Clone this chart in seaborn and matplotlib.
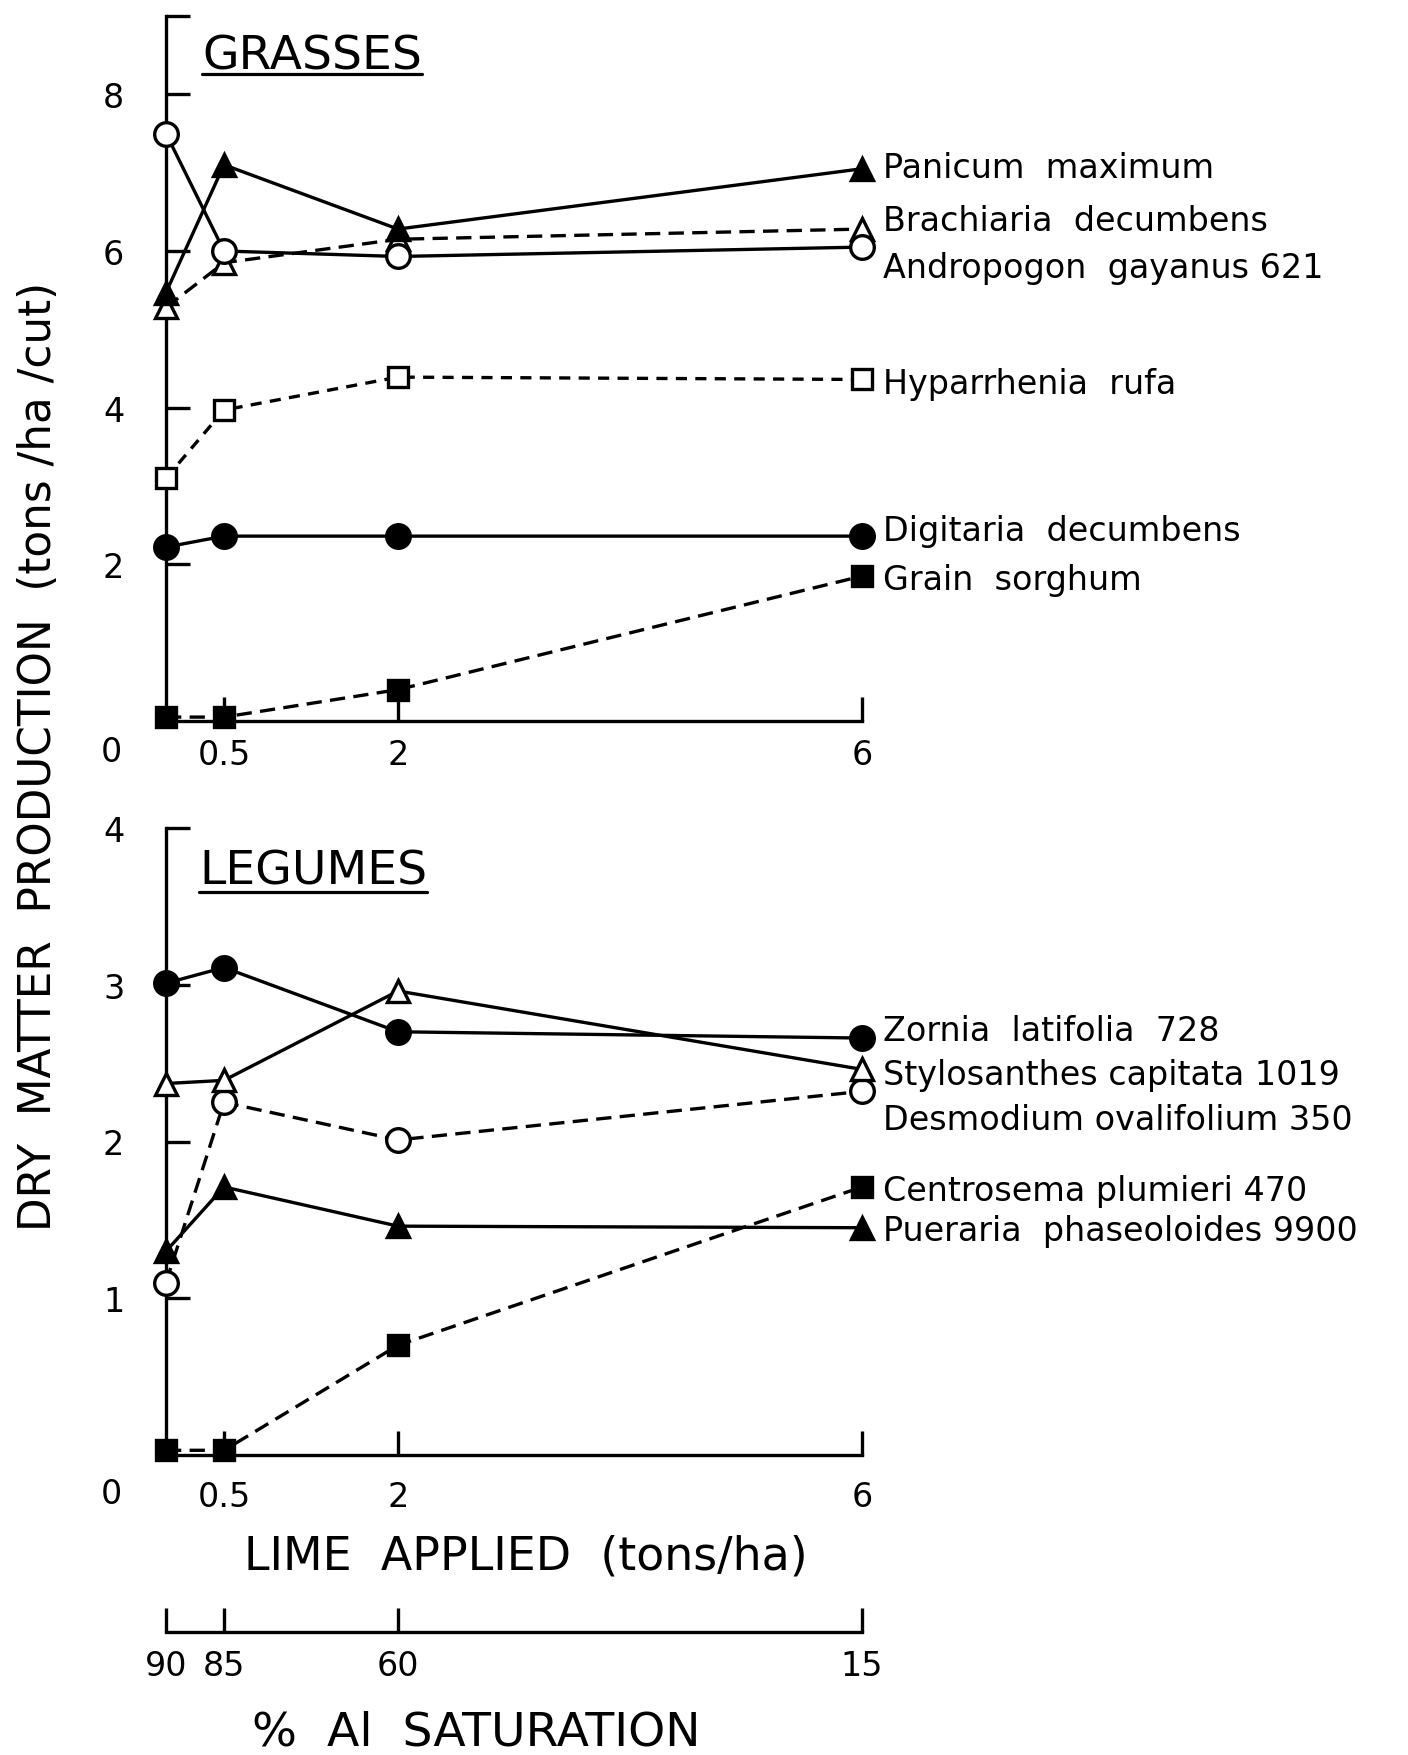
import numpy as np
import pandas as pd
import matplotlib
matplotlib.use("Agg")
import matplotlib.pyplot as plt
from matplotlib.lines import Line2D
import seaborn as sns

# ---------------- data ----------------
lime = [0, 0.5, 2, 6]
lime_ticklabels = ["0.5", "2", "6"]
al_saturation = ["90", "85", "60", "15"]

grass_names = ["Panicum  maximum", "Brachiaria  decumbens", "Andropogon  gayanus 621",
               "Hyparrhenia  rufa", "Digitaria  decumbens", "Grain  sorghum"]
panicum = [5.47, 7.10, 6.28, 7.05]
brachiaria = [5.28, 5.85, 6.15, 6.28]
andropogon = [7.50, 6.00, 5.93, 6.05]
hyparrhenia = [3.10, 3.97, 4.39, 4.36]
digitaria = [2.22, 2.36, 2.36, 2.36]
sorghum = [0.05, 0.05, 0.40, 1.85]

legume_names = ["Zornia  latifolia  728", "Stylosanthes capitata 1019",
                "Desmodium ovalifolium 350", "Centrosema plumieri 470",
                "Pueraria  phaseoloides 9900"]
zornia = [3.01, 3.11, 2.70, 2.66]
stylosanthes = [2.37, 2.39, 2.96, 2.46]
desmodium = [1.10, 2.25, 2.01, 2.32]
centrosema = [0.03, 0.03, 0.70, 1.71]
pueraria = [1.30, 1.71, 1.46, 1.45]

# label anchor heights (layout)
grass_label_y = [7.07, 6.39, 5.79, 4.31, 2.43, 1.81]
legume_label_y = [2.71, 2.43, 2.14, 1.69, 1.43]

# ---------------- style ----------------
sns.set_style("ticks")
plt.rcParams["font.family"] = ["DejaVu Sans"]
plt.rcParams["lines.scale_dashes"] = False
plt.rcParams["text.color"] = "black"
plt.rcParams["axes.labelcolor"] = "black"
plt.rcParams["xtick.color"] = "black"
plt.rcParams["ytick.color"] = "black"

W, H = 1408, 1756
fig = plt.figure(figsize=(W / 100, H / 100), dpi=100)
fig.patch.set_facecolor("white")

LW = 2.4
DASH = (0, (11, 6))
DASH_SHORT = (0, (8, 6))

def fx(px):
    return px / W

def fy(py):
    return 1 - py / H

left, right = 166, 862
ax_top = fig.add_axes([fx(left), fy(722), fx(right) - fx(left), fy(17) - fy(722)])
ax_bot = fig.add_axes([fx(left), fy(1456), fx(right) - fx(left), fy(829) - fy(1456)])

def draw(ax, y, marker, filled, ls, ms, z):
    sns.lineplot(x=lime, y=y, ax=ax, color="black", linewidth=LW, linestyle=ls,
                 marker=marker, markersize=ms,
                 markerfacecolor="black" if filled else "white",
                 markeredgecolor="black", markeredgewidth=2.4,
                 clip_on=False, zorder=z, legend=False)

# grasses
draw(ax_top, sorghum, "s", True, DASH, 15, 3)
draw(ax_top, digitaria, "o", True, "-", 17, 3)
draw(ax_top, hyparrhenia, "s", False, DASH_SHORT, 15, 3)
draw(ax_top, brachiaria, "^", False, DASH, 16, 3)
draw(ax_top, andropogon, "o", False, "-", 17, 4)
draw(ax_top, panicum, "^", True, "-", 16, 5)

# legumes
draw(ax_bot, centrosema, "s", True, DASH, 15, 3)
draw(ax_bot, pueraria, "^", True, "-", 16, 4)
draw(ax_bot, desmodium, "o", False, DASH, 17, 3)
draw(ax_bot, stylosanthes, "^", False, "-", 16, 4)
draw(ax_bot, zornia, "o", True, "-", 17, 5)

for ax, names, ys in [(ax_top, grass_names, grass_label_y),
                      (ax_bot, legume_names, legume_label_y)]:
    for name, yv in zip(names, ys):
        ax.annotate(name, xy=(6, yv), xycoords="data", xytext=(15, 0),
                    textcoords="offset points", ha="left", va="center",
                    fontsize=24, color="black", annotation_clip=False)

# axes formatting
for ax in (ax_top, ax_bot):
    ax.set_facecolor("none")
    ax.set_xlim(0, 6)
    sns.despine(ax=ax)
    for s in ("left", "bottom"):
        ax.spines[s].set_linewidth(LW)
        ax.spines[s].set_color("black")
    ax.set_xticks(lime[1:])
    ax.set_xticklabels(lime_ticklabels)
    ax.tick_params(axis="both", direction="in", length=17, width=LW,
                   color="black", labelsize=24, labelcolor="black")
    ax.tick_params(axis="y", pad=30)
    ax.set_xlabel("")
    ax.set_ylabel("")

ax_top.set_ylim(0, 9)
ax_top.set_yticks([2, 4, 6, 8, 9])
ax_top.set_yticklabels(["2", "4", "6", "8", ""])
ax_top.tick_params(axis="x", pad=12)
ax_top.annotate("0", xy=(0, 0), xytext=(-39, -22), textcoords="offset points",
                ha="center", va="center", fontsize=24, annotation_clip=False)

ax_bot.set_ylim(0, 4)
ax_bot.set_yticks([1, 2, 3, 4])
ax_bot.set_yticklabels(["1", "2", "3", "4"])
ax_bot.tick_params(axis="x", pad=18)
ax_bot.annotate("0", xy=(0, 0), xytext=(-39, -28), textcoords="offset points",
                ha="center", va="center", fontsize=24, annotation_clip=False)

# Al saturation axis
ax_al = fig.add_axes([fx(left), fy(1633), fx(right) - fx(left), 0.0001])
ax_al.set_facecolor("none")
ax_al.set_xlim(0, 6)
for s in ("left", "right", "top"):
    ax_al.spines[s].set_visible(False)
ax_al.spines["bottom"].set_linewidth(LW)
ax_al.spines["bottom"].set_color("black")
ax_al.set_yticks([])
ax_al.set_xticks(lime)
ax_al.set_xticklabels(al_saturation)
ax_al.tick_params(axis="x", direction="in", length=17, width=LW, labelsize=24,
                  pad=12, color="black", labelcolor="black")

# texts
fig.text(fx(39), fy(756), "DRY  MATTER  PRODUCTION  (tons /ha /cut)", rotation=90,
         ha="center", va="center", fontsize=31.5)
fig.text(fx(526), fy(1557), "LIME  APPLIED  (tons/ha)", ha="center", va="center", fontsize=33)
fig.text(fx(476), fy(1733), "%  Al  SATURATION", ha="center", va="center", fontsize=34)

t1 = fig.text(fx(202), fy(69), "GRASSES", ha="left", va="baseline", fontsize=34)
t2 = fig.text(fx(199), fy(885), "LEGUMES", ha="left", va="baseline", fontsize=34)

fig.canvas.draw()
r = fig.canvas.get_renderer()
for t, uy in [(t1, 75), (t2, 893)]:
    bb = t.get_window_extent(renderer=r)
    x0, x1 = bb.x0 / W, bb.x1 / W
    fig.add_artist(Line2D([x0, x1], [fy(uy), fy(uy)], transform=fig.transFigure,
                          color="black", linewidth=2.3))

fig.savefig("out.png", dpi=100, facecolor="white")
